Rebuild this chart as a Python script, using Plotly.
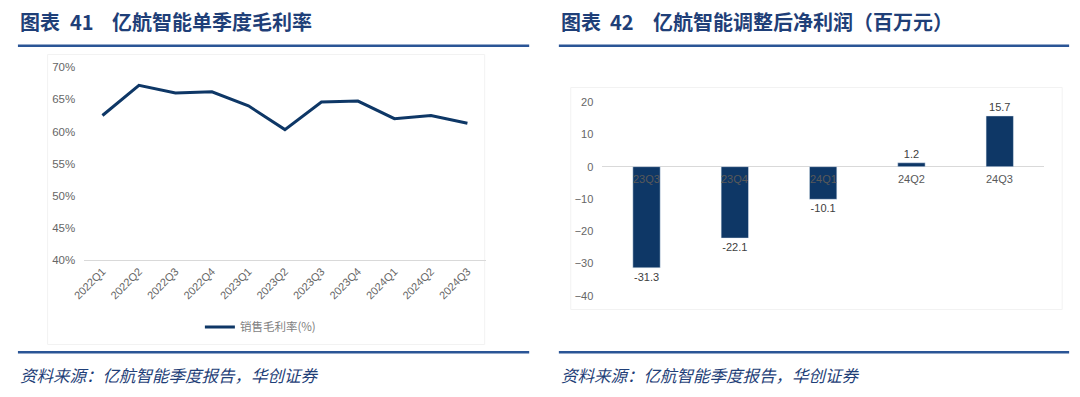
import plotly.graph_objects as go

W, H = 1080, 397

# ---- data ----
gm_quarters = ["2022Q1", "2022Q2", "2022Q3", "2022Q4", "2023Q1", "2023Q2",
               "2023Q3", "2023Q4", "2024Q1", "2024Q2", "2024Q3"]
gm_values = [62.5, 67.2, 66.0, 66.2, 64.0, 60.3, 64.6, 64.75, 62.0, 62.5, 61.3]
gm_name = "销售毛利率(%)"

np_quarters = ["23Q3", "23Q4", "24Q1", "24Q2", "24Q3"]
np_values = [-31.3, -22.1, -10.1, 1.2, 15.7]

title_left = ("图表", "41", "亿航智能单季度毛利率")
title_right = ("图表", "42", "亿航智能调整后净利润（百万元）")
source_text = "资料来源：亿航智能季度报告，华创证券"

NAVY = "#0E3766"
TITLE_C = "#1F3F78"
RULE_C = "#2A5596"
TICK_C = "#666666"
FONT = "Liberation Sans, Arial, Noto Sans CJK SC, sans-serif"
CJK = "Noto Sans CJK SC, sans-serif"

def px(x):
    return x / W

def py(y):
    return 1 - y / H

fig = go.Figure()

fig.add_trace(go.Scatter(
    x=gm_quarters, y=gm_values, mode="lines", name=gm_name,
    line=dict(color=NAVY, width=3), xaxis="x", yaxis="y", showlegend=True,
))

fig.add_trace(go.Bar(
    x=np_quarters, y=np_values, marker=dict(color=NAVY), width=0.31,
    texttemplate="%{y:.1f}", textposition="outside", cliponaxis=False,
    textfont=dict(size=11, color="#404040", family=FONT),
    xaxis="x2", yaxis="y2", showlegend=False,
))

fig.update_layout(
    width=W, height=H,
    margin=dict(l=0, r=0, t=0, b=0),
    paper_bgcolor="white", plot_bgcolor="white",
    font=dict(family=FONT, size=11, color=TICK_C),
    xaxis=dict(domain=[px(73), px(479)], type="category", range=[-0.5, 10.5],
               showline=True, linecolor="#d9d9d9", linewidth=1, showgrid=False,
               zeroline=False, ticks="", tickangle=-45,
               tickfont=dict(size=11, color=TICK_C), anchor="y"),
    yaxis=dict(domain=[py(261.7), py(63.3)], range=[40, 70], dtick=5,
               ticksuffix="%", showgrid=False, zeroline=False, showline=False,
               ticks="", ticklabelstandoff=8,
               tickfont=dict(size=11.5, color=TICK_C), anchor="x"),
    xaxis2=dict(domain=[px(597), px(1043.5)], type="category", range=[-0.5, 4.5],
                showticklabels=False, showline=False, showgrid=False,
                zeroline=False, ticks="", anchor="y2"),
    yaxis2=dict(domain=[py(299), py(99)], range=[-40, 20], dtick=10,
                showgrid=False, zeroline=True, zerolinecolor="#d9d9d9",
                zerolinewidth=1, showline=False, ticks="", ticklabelstandoff=8,
                tickfont=dict(size=11, color=TICK_C), anchor="x2"),
    legend=dict(orientation="h", x=px(190), y=py(331), xanchor="left",
                yanchor="middle", bgcolor="rgba(0,0,0,0)",
                font=dict(size=11.5, color="#7f7f7f", family=CJK)),
    bargap=0.5,
)

annotations = []
# category labels at the zero line of the bar chart
for q in np_quarters:
    annotations.append(dict(x=q, y=0, xref="x2", yref="y2", text=q,
                            showarrow=False, yanchor="top", yshift=-4,
                            font=dict(size=11, color="#595959", family=FONT)))

def title(parts, x0, xnum, xmain):
    out = []
    for txt, x in zip(parts, (x0, xnum, xmain)):
        out.append(dict(x=px(x), y=py(16), xref="paper", yref="paper", text="<b>%s</b>" % txt,
                        showarrow=False, xanchor="left", yanchor="middle",
                        font=dict(size=20, color=TITLE_C, family="Noto Sans CJK SC, serif")))
    return out

annotations += title(title_left, 6, 57, 99)
annotations += title(title_right, 553, 603, 646)

for x0 in (6, 553):
    annotations.append(dict(x=px(x0), y=py(380), xref="paper", yref="paper",
                            text="<i>%s</i>" % source_text, showarrow=False,
                            xanchor="left", yanchor="middle",
                            font=dict(size=16.5, color=TITLE_C, family=CJK)))

fig.update_layout(annotations=annotations)

shapes = []
for (xa, xb) in ((6, 523), (553, 1069)):
    for yy in (41, 357):
        shapes.append(dict(type="line", xref="paper", yref="paper",
                           x0=px(xa), x1=px(xb), y0=py(yy), y1=py(yy),
                           line=dict(color=RULE_C, width=2.5)))
# faint chart-area frames
shapes.append(dict(type="rect", xref="paper", yref="paper",
                   x0=px(36), x1=px(478), y0=py(349), y1=py(50),
                   line=dict(color="#f2f2f2", width=1), layer="below"))
shapes.append(dict(type="rect", xref="paper", yref="paper",
                   x0=px(565), x1=px(1062), y0=py(313), y1=py(84),
                   line=dict(color="#f2f2f2", width=1), layer="below"))
fig.update_layout(shapes=shapes)

fig.write_html(
    "out.html",
    config={"displayModeBar": False},
    post_script="document.body.style.margin='0';document.body.style.overflow='hidden';",
)
